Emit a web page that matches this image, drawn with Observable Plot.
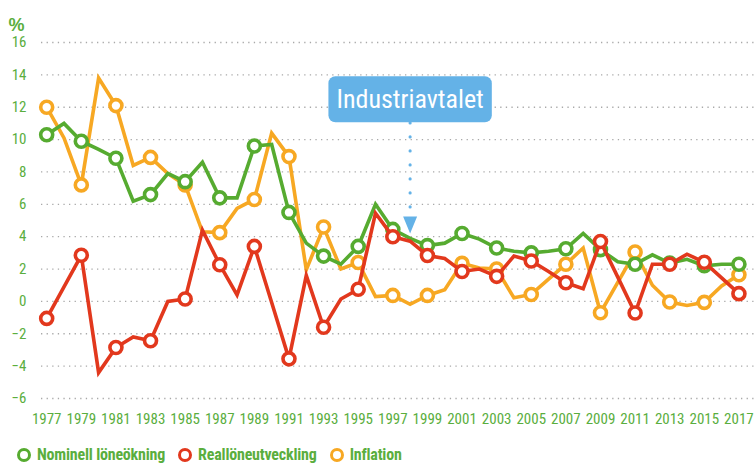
<!DOCTYPE html>
<html>
<head>
<meta charset="utf-8">
<script src="https://cdn.jsdelivr.net/npm/d3@7"></script>
<script src="https://cdn.jsdelivr.net/npm/@observablehq/plot@0.6"></script>
<style>
  body { margin: 0; background: #fff; }
  #chart { width: 754px; height: 463px; overflow: hidden; }
  .legend { display: flex; align-items: center; height: 23px; padding-top: 6px; padding-left: 17px; box-sizing: border-box;
    font-family: "Liberation Sans Narrow", "Roboto Condensed", "DejaVu Sans Condensed", Roboto, sans-serif;
    font-weight: bold; font-size: 16px; letter-spacing: -0.2px; color: #5aae3e; }
  .legend .item { display: flex; align-items: center; margin-right: 13px; }
  .legend .sw { width: 8px; height: 8px; border: 3.7px solid; border-radius: 50%; margin-right: 6px; }
</style>
</head>
<body>
<div id="chart"></div>
<script>
const years = [1977,1978,1979,1980,1981,1982,1983,1984,1985,1986,
  1987,1988,1989,1990,1991,1992,1993,1994,1995,1996,
  1997,1998,1999,2000,2001,2002,2003,2004,2005,2006,
  2007,2008,2009,2010,2011,2012,2013,2014,2015,2016,2017];

const nominell = [10.3, 11.0, 9.9, 9.4, 8.85, 6.2, 6.6, 7.9, 7.4, 8.6,
  6.4, 6.4, 9.6, 9.7, 5.5, 3.6, 2.8, 2.3, 3.4, 6.0,
  4.45, 3.9, 3.45, 3.6, 4.2, 3.85, 3.3, 3.1, 3.0, 3.1,
  3.25, 4.2, 3.2, 2.45, 2.3, 2.88, 2.37, 2.6, 2.2, 2.3, 2.3];

const reallon = [-1.05, 0.9, 2.85, -4.4, -2.85, -2.2, -2.43, 0.0, 0.15, 4.4,
  2.27, 0.4, 3.4, -0.07, -3.55, 1.6, -1.6, 0.15, 0.75, 5.45,
  4.0, 3.72, 2.84, 2.65, 1.85, 2.0, 1.55, 2.8, 2.5, 1.85,
  1.15, 0.78, 3.7, 1.5, -0.72, 2.3, 2.3, 2.92, 2.42, 1.45, 0.48];

const inflation = [12.0, 10.1, 7.2, 13.8, 12.1, 8.4, 8.9, 7.9, 7.2, 4.3,
  4.25, 5.75, 6.3, 10.4, 8.95, 1.95, 4.6, 2.0, 2.4, 0.3,
  0.37, -0.18, 0.37, 0.72, 2.35, 2.06, 2.0, 0.22, 0.43, 1.38,
  2.3, 3.3, -0.7, 1.18, 3.05, 1.0, -0.04, -0.25, -0.06, 0.95, 1.65];

const seriesNames = ["Nominell löneökning", "Reallöneutveckling", "Inflation"];
const seriesColors = ["#56ab30", "#e2381d", "#f7a823"];
const xTicks = [1977,1979,1981,1983,1985,1987,1989,1991,1993,1995,1997,1999,2001,2003,2005,2007,2009,2011,2013,2015,2017];
const yTicks = [-6,-4,-2,0,2,4,6,8,10,12,14,16];
const unitLabel = "%";

const annotationYear = 1998;
const annotationLabel = "Industriavtalet";
const annotationLabelY = 12.45;
const annotationLineTop = 11.0;
const annotationLineBottom = 5.75;
const annotationArrowY = 4.72;

const FONT = '"Liberation Sans Narrow", "Roboto Condensed", "DejaVu Sans Condensed", Roboto, sans-serif';
const TEXT_GREEN = "#5aae3e";
const BLUE = "#64b2e7";

const valuesBySeries = [nominell, reallon, inflation];
const rows = seriesNames.map((name, s) => years.map((year, i) => ({year, value: valuesBySeries[s][i], series: name})));

// drawing order: Inflation (bottom), Nominell, Real (top)
const order = [2, 0, 1];
const seriesMarks = order.flatMap(s => [
  Plot.line(rows[s], {x: "year", y: "value", stroke: seriesColors[s], strokeWidth: 3.6, strokeLinejoin: "miter", strokeMiterlimit: 4}),
  Plot.dot(rows[s].filter(d => d.year % 2 === 1), {x: "year", y: "value", r: 6, stroke: seriesColors[s], strokeWidth: 3.6, fill: "white"})
]);

const arrowSymbol = {draw(ctx) { ctx.moveTo(-7, -8.5); ctx.lineTo(7, -8.5); ctx.lineTo(0, 8.5); ctx.closePath(); }};

const plot = Plot.plot({
  width: 754,
  height: 440,
  marginLeft: 41,
  marginRight: 0,
  marginTop: 42,
  marginBottom: 42,
  style: {fontFamily: FONT, background: "white"},
  x: {domain: [1976.7, 2017.9]},
  y: {domain: [-6, 16]},
  marks: [
    Plot.gridY(yTicks, {stroke: "#a9a9a9", strokeOpacity: 1, strokeWidth: 1.3, strokeDasharray: "1.3,4.3"}),
    Plot.axisY(yTicks, {tickSize: 0, tickPadding: 15, fontSize: 15, fill: TEXT_GREEN, label: null}),
    Plot.axisX(xTicks, {tickSize: 0, tickPadding: 15, fontSize: 15, fill: TEXT_GREEN, label: null, tickFormat: d => String(d)}),
    Plot.text([unitLabel], {frameAnchor: "top-left", dx: -33, dy: -24, fontWeight: "bold", fontSize: 18, fontFamily: '"Liberation Sans", Arial, sans-serif', fill: TEXT_GREEN, textAnchor: "start"}),
    ...seriesMarks,
    Plot.ruleX([annotationYear], {y1: annotationLineTop, y2: annotationLineBottom, stroke: BLUE, strokeWidth: 3.2, strokeDasharray: "0,14", strokeLinecap: "round"}),
    Plot.dot([annotationYear], {x: d => d, y: annotationArrowY, symbol: arrowSymbol, fill: BLUE, stroke: "none", r: 6}),
    Plot.text([annotationLabel], {x: annotationYear, y: annotationLabelY, text: d => d, fill: "white", fontSize: 26, lineAnchor: "middle", textAnchor: "middle"})
  ]
});

const chart = document.getElementById("chart");
chart.appendChild(plot);

// rounded label box behind the annotation text
const svgns = "http://www.w3.org/2000/svg";
const label = [...plot.querySelectorAll("text")].find(e => e.textContent === annotationLabel);
if (label) {
  const bb = label.getBBox();
  const rect = document.createElementNS(svgns, "rect");
  rect.setAttribute("x", bb.x - 8);
  rect.setAttribute("y", bb.y - 8);
  rect.setAttribute("width", bb.width + 16);
  rect.setAttribute("height", bb.height + 16);
  rect.setAttribute("rx", 7);
  rect.setAttribute("fill", BLUE);
  const tr = label.getAttribute("transform");
  if (tr) rect.setAttribute("transform", tr);
  label.parentNode.insertBefore(rect, label);
}

// legend
const legend = document.createElement("div");
legend.className = "legend";
seriesNames.forEach((name, s) => {
  const item = document.createElement("div");
  item.className = "item";
  const sw = document.createElement("span");
  sw.className = "sw";
  sw.style.borderColor = seriesColors[s];
  const tx = document.createElement("span");
  tx.textContent = name;
  item.appendChild(sw);
  item.appendChild(tx);
  legend.appendChild(item);
});
chart.appendChild(legend);
</script>
</body>
</html>
